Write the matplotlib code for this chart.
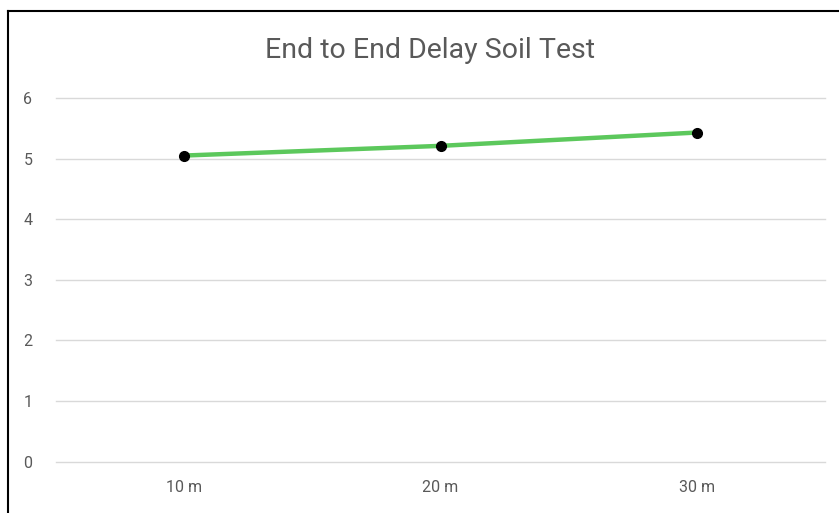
import matplotlib.pyplot as plt
from matplotlib.lines import Line2D

categories = ['10 m', '20 m', '30 m']
delay = [5.05, 5.21, 5.43]
y_ticks = [0, 1, 2, 3, 4, 5, 6]

plt.rcParams['font.family'] = ['Roboto', 'DejaVu Sans']

fig = plt.figure(figsize=(8.39, 5.13), dpi=100)
W, H = 839, 513
ax = fig.add_axes([56 / W, (H - 461.5) / H, (825 - 56) / W, (461.5 - 98) / H])

x = list(range(len(categories)))
ax.plot(x, delay, color='#5cc85c', linewidth=3.2, solid_capstyle='butt', zorder=3)
ax.plot(x, delay, 'o', color='black', markersize=7, zorder=4)

ax.set_xlim(-0.5, len(categories) - 0.5)
ax.set_ylim(0, 6)
ax.set_yticks(y_ticks)
ax.set_xticks(x)
ax.set_xticklabels(categories)
ax.grid(axis='y', color='#d9d9d9', linewidth=1)
for gl in ax.get_ygridlines():
    gl.set_clip_on(False)
ax.set_axisbelow(True)
for s in ax.spines.values():
    s.set_visible(False)
ax.tick_params(axis='both', length=0, colors='#595959', labelsize=11.5)
ax.tick_params(axis='y', pad=17)
ax.tick_params(axis='x', pad=13)

fig.text(430 / W, 1 - 50 / H, 'End to End Delay Soil Test', ha='center', va='center',
         fontsize=20.5, color='#595959')

# chart border
fig.add_artist(Line2D([8 / W, 8 / W], [0, 1 - 11 / H], transform=fig.transFigure, color='black', linewidth=1.5))
fig.add_artist(Line2D([8 / W, 1], [1 - 11 / H, 1 - 11 / H], transform=fig.transFigure, color='black', linewidth=1.5))

fig.savefig('out.png', dpi=100)
